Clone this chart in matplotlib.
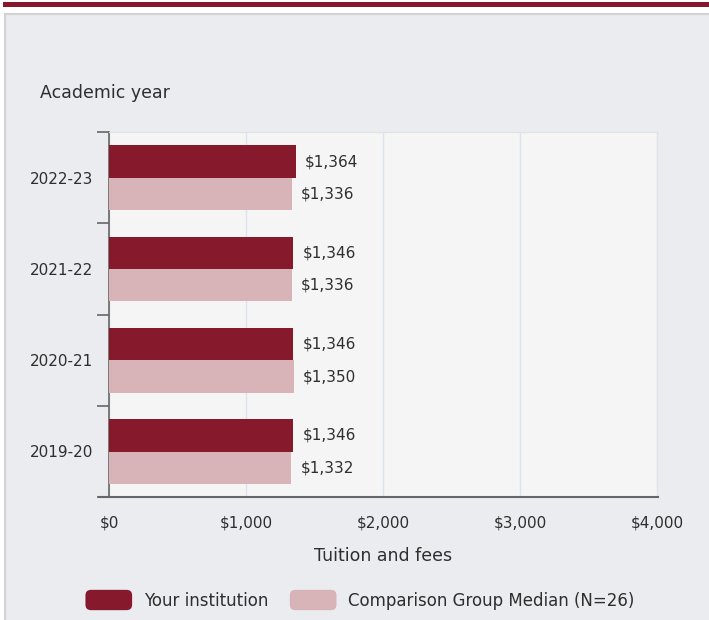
import matplotlib
matplotlib.use("Agg")
import matplotlib.pyplot as plt
from matplotlib.patches import Rectangle, Patch, FancyBboxPatch
from matplotlib.legend_handler import HandlerPatch
import numpy as np

plt.rcParams['font.family'] = ['DejaVu Sans']

years = ['2022-23', '2021-22', '2020-21', '2019-20']
your_inst = [1364, 1346, 1346, 1346]
comparison = [1336, 1336, 1350, 1332]
xticks = [0, 1000, 2000, 3000, 4000]

dark = '#861a2c'
pink = '#d8b3b8'
txt = '#2e2e2e'


class RoundHandler(HandlerPatch):
    # rounded legend swatches
    def create_artists(self, legend, orig_handle, xdescent, ydescent, width, height, fontsize, trans):
        p = FancyBboxPatch((-xdescent, -ydescent), width, height,
                           boxstyle='round,pad=0,rounding_size=4',
                           facecolor=orig_handle.get_facecolor(), edgecolor='none',
                           transform=trans)
        return [p]


W, H = 709, 620
fig = plt.figure(figsize=(W / 100, H / 100), dpi=100)
fig.patch.set_facecolor('white')

# top maroon rule and grey panel behind the chart
fig.add_artist(Rectangle((3 / W, 1 - 7 / H), 1, 5 / H, transform=fig.transFigure,
                         facecolor=dark, edgecolor='none', zorder=-2))
fig.add_artist(Rectangle((5 / W, -0.01), 1, 1.01 - 14 / H, transform=fig.transFigure,
                         facecolor='#ebecf0', edgecolor='#d2d2d2', linewidth=1.5, zorder=-1))

ax = fig.add_axes([109 / W, 1 - 497 / H, (657 - 109) / W, (497 - 132) / H])
ax.set_facecolor('#f5f5f5')

y = np.arange(len(years))
h = 0.355
ax.barh(y - 0.175, your_inst, height=h, color=dark, zorder=3)
ax.barh(y + 0.18, comparison, height=h, color=pink, zorder=3)

for yi, v in zip(y, your_inst):
    ax.text(v + 65, yi - 0.175, f'${v:,}', va='center', ha='left', fontsize=11, color=txt)
for yi, v in zip(y, comparison):
    ax.text(v + 65, yi + 0.18, f'${v:,}', va='center', ha='left', fontsize=11, color=txt)

ax.set_xlim(0, 4000)
ax.set_ylim(len(years) - 0.5, -0.5)
ax.set_xticks(xticks)
ax.set_xticklabels([f'${t:,}' for t in xticks])
ax.set_yticks(y)
ax.set_yticklabels(years)
ax.set_yticks(np.arange(len(years) + 1) - 0.5, minor=True)
ax.tick_params(axis='x', length=0, pad=13, labelsize=11, labelcolor=txt)
ax.tick_params(axis='y', which='major', length=0, pad=11.5, labelsize=11, labelcolor=txt)
ax.tick_params(axis='y', which='minor', length=9, width=1.2, color='#666666')

ax.grid(axis='x', color='#dde3ee', linewidth=1, zorder=0)
for s in ['top', 'right']:
    ax.spines[s].set_color('#e2e2e2')
ax.spines['left'].set_color('#666666')
ax.spines['left'].set_linewidth(1.2)
ax.spines['bottom'].set_visible(False)
ax.plot([-0.018, 1.002], [0, 0], transform=ax.transAxes, color='#666666',
        linewidth=1.5, clip_on=False, zorder=4)

ax.set_xlabel('Tuition and fees', fontsize=12.5, color=txt, labelpad=12)
fig.text(40 / W, 1 - 93 / H, 'Academic year', fontsize=12.5, color=txt, va='center', ha='left')

handles = [Patch(facecolor=dark, label='Your institution'),
           Patch(facecolor=pink, label='Comparison Group Median (N=26)')]
fig.legend(handles=handles, loc='center', bbox_to_anchor=(360 / W, 1 - 600 / H), ncol=2,
           frameon=False, fontsize=12, handlelength=2.8, handleheight=1.5,
           handletextpad=0.7, columnspacing=1.3, labelcolor=txt,
           handler_map={Patch: RoundHandler()})

fig.savefig('out.png', dpi=100)
